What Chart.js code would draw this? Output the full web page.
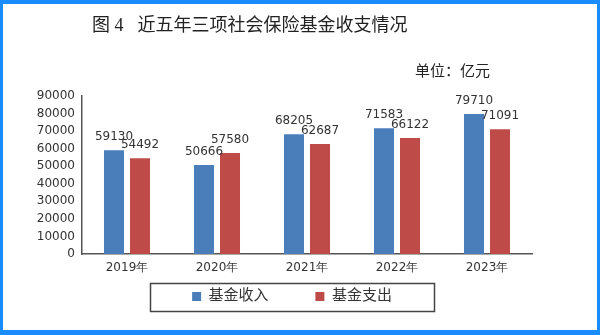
<!DOCTYPE html>
<html>
<head>
<meta charset="utf-8">
<script src="https://cdn.jsdelivr.net/npm/chart.js@4.4.0/dist/chart.umd.min.js"></script>
<style>
    html, body { margin: 0; padding: 0; background: #fff; }
    #wrap { position: relative; width: 600px; height: 335px; overflow: hidden; }
    #frame { position: absolute; left: 0; top: 0; width: 600px; height: 335px; box-sizing: border-box;
        border-style: solid; border-color: #1a8cff; border-width: 4px 3px 5px 3px; pointer-events: none; }
    #title { position: absolute; left: 92px; top: 10px; font: 18px "Liberation Serif", "Noto Sans CJK SC", serif; color: #222; white-space: pre; }
    #title .main { margin-left: 14px; }
    #unit { position: absolute; left: 415px; top: 59px; font: 15px "Liberation Serif", "Noto Sans CJK SC", serif; color: #222; }
    canvas { position: absolute; left: 0; top: 0; }
</style>
</head>
<body>
<div id="wrap">
    <canvas id="chart" width="600" height="335"></canvas>
    <div id="title"><span>图 4</span><span class="main">近五年三项社会保险基金收支情况</span></div>
    <div id="unit">单位：亿元</div>
    <div id="frame"></div>
</div>
<script>
// Data
const years = ['2019年', '2020年', '2021年', '2022年', '2023年'];
const income = [59130, 50666, 68205, 71583, 79710];
const expense = [54492, 57580, 62687, 66122, 71091];
const seriesNames = ['基金收入', '基金支出'];
const yMax = 90000;
const yStep = 10000;

const tickFont = { family: '"DejaVu Sans", sans-serif', size: 12 };

// value labels above every bar
const valueLabels = {
    id: 'valueLabels',
    afterDatasetsDraw(chart) {
        const ctx = chart.ctx;
        ctx.save();
        ctx.font = '12px "DejaVu Sans", sans-serif';
        ctx.fillStyle = '#333';
        ctx.textAlign = 'center';
        ctx.textBaseline = 'bottom';
        chart.data.datasets.forEach((ds, i) => {
            chart.getDatasetMeta(i).data.forEach((bar, j) => {
                ctx.fillText(ds.data[j], bar.x, bar.y - 7);
            });
        });
        ctx.restore();
    }
};

// nudge the legend a little to the right, then box it
const legendFrame = {
    id: 'legendFrame',
    afterLayout(chart) {
        chart.legend.left += 8;
        chart.legend.right += 8;
    },
    afterDraw(chart) {
        const boxes = chart.legend.legendHitBoxes;
        if (!boxes || !boxes.length) return;
        const left = Math.min(...boxes.map(b => b.left));
        const right = Math.max(...boxes.map(b => b.left + b.width));
        const cy = boxes[0].top + boxes[0].height / 2;
        const cx = (left + right) / 2;
        const ctx = chart.ctx;
        ctx.save();
        ctx.strokeStyle = '#444';
        ctx.lineWidth = 1.5;
        ctx.strokeRect(Math.round(cx - 142) + 0.5, Math.round(cy - 14) + 0.5, 284, 28);
        ctx.restore();
    }
};

new Chart(document.getElementById('chart').getContext('2d'), {
    type: 'bar',
    data: {
        labels: years,
        datasets: [
            { label: seriesNames[0], data: income, backgroundColor: '#4a7ebb' },
            { label: seriesNames[1], data: expense, backgroundColor: '#be4b48' }
        ]
    },
    options: {
        responsive: false,
        animation: false,
        categoryPercentage: 0.578,
        barPercentage: 0.77,
        layout: { padding: { left: 36, right: 68, top: 96, bottom: 21 } },
        scales: {
            x: {
                grid: { display: false, drawTicks: false },
                border: { color: '#555', width: 1.5 },
                ticks: { font: tickFont, color: '#333', padding: 7 },
                afterFit(scale) { scale.height = 22; }
            },
            y: {
                min: 0,
                max: yMax,
                grid: { display: false, drawTicks: false },
                border: { color: '#555', width: 1.5 },
                ticks: {
                    stepSize: yStep, autoSkip: false, font: tickFont, color: '#333', padding: 7,
                    callback: v => String(v)
                },
                afterFit(scale) { scale.width = 46; }
            }
        },
        plugins: {
            legend: {
                position: 'bottom',
                labels: {
                    boxWidth: 9,
                    boxHeight: 9,
                    padding: 13,
                    color: '#333',
                    font: { family: '"Liberation Serif", "Noto Sans CJK SC", serif', size: 15 },
                    generateLabels(chart) {
                        const items = Chart.defaults.plugins.legend.labels.generateLabels(chart);
                        items[0].text = items[0].text + '　　 ';
                        return items;
                    }
                }
            },
            tooltip: { enabled: false }
        }
    },
    plugins: [valueLabels, legendFrame]
});
</script>
</body>
</html>
